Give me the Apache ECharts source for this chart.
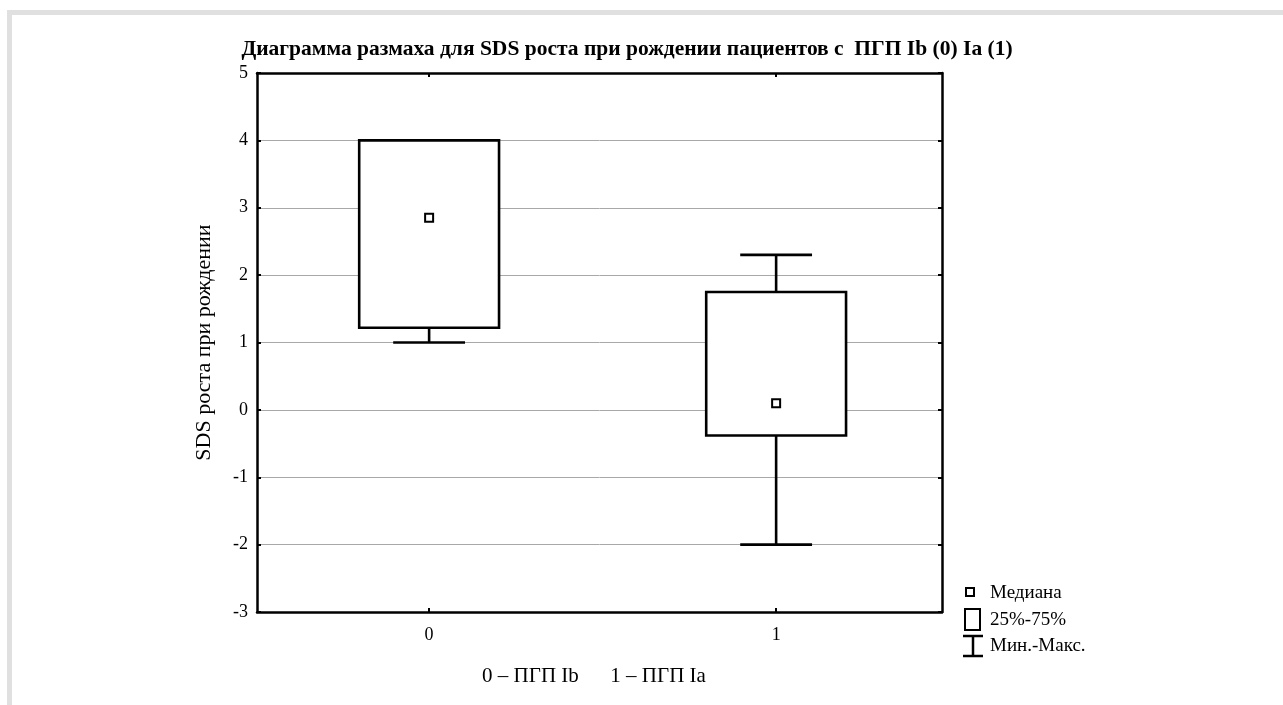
<!DOCTYPE html>
<html>
<head>
<meta charset="utf-8">
<script src="https://cdn.jsdelivr.net/npm/echarts@6/dist/echarts.min.js"></script>
<style>
html,body{margin:0;padding:0;background:#fff;}
#frame{position:absolute;left:7px;top:10px;right:0;bottom:0;border-top:5px solid #e0e0e0;border-left:5px solid #e0e0e0;}
#chart{position:absolute;left:0;top:0;width:1283px;height:705px;}
</style>
</head>
<body>
<div id="frame"></div>
<div id="chart"></div>
<script>
const categories = [0, 1];
const q1Values = [1.22, -0.38];
const q3Values = [4.0, 1.75];
const medianValues = [2.85, 0.1];
const minValues = [1.0, -2.0];
const maxValues = [4.0, 2.3];
const yTicks = [-3, -2, -1, 0, 1, 2, 3, 4, 5];

const FONT = '"Liberation Serif", "DejaVu Serif", serif';
const chart = echarts.init(document.getElementById('chart'));

const data = categories.map((c, i) => [c, q1Values[i], q3Values[i], medianValues[i], minValues[i], maxValues[i]]);

function renderItem(params, api) {
  const x = api.value(0);
  const q1 = api.coord([x, api.value(1)]);
  const q3 = api.coord([x, api.value(2)]);
  const med = api.coord([x, api.value(3)]);
  const mn = api.coord([x, api.value(4)]);
  const mx = api.coord([x, api.value(5)]);
  const boxW = api.size([0.403, 0])[0];
  const capW = api.size([0.207, 0])[0];
  const cx = q1[0];
  const st = {stroke: '#000', lineWidth: 2.6, fill: null};
  const children = [];
  if (mn[1] > q1[1] + 0.5) {
    children.push({type: 'line', shape: {x1: cx, y1: q1[1], x2: cx, y2: mn[1]}, style: st});
    children.push({type: 'line', shape: {x1: cx - capW / 2, y1: mn[1], x2: cx + capW / 2, y2: mn[1]}, style: st});
  }
  if (mx[1] < q3[1] - 0.5) {
    children.push({type: 'line', shape: {x1: cx, y1: q3[1], x2: cx, y2: mx[1]}, style: st});
    children.push({type: 'line', shape: {x1: cx - capW / 2, y1: mx[1], x2: cx + capW / 2, y2: mx[1]}, style: st});
  }
  children.push({type: 'rect', shape: {x: cx - boxW / 2, y: q3[1], width: boxW, height: q1[1] - q3[1]},
    style: {stroke: '#000', lineWidth: 2.6, fill: '#fff'}});
  children.push({type: 'rect', shape: {x: med[0] - 4, y: med[1] - 4, width: 8, height: 8},
    style: {stroke: '#000', lineWidth: 2, fill: '#fff'}});
  return {type: 'group', children};
}

const axisLineStyle = {show: true, onZero: false, lineStyle: {color: '#000', width: 2.5}};
const tickStyle = {show: true, inside: true, length: 4, lineStyle: {color: '#000', width: 2}};

chart.setOption({
  animation: false,
  title: {
    text: 'Диаграмма размаха для SDS роста при рождении пациентов с  ПГП Ib (0) Ia (1)',
    left: 622, top: 33, textAlign: 'center',
    textStyle: {fontFamily: FONT, fontSize: 21.5, fontWeight: 'bold', color: '#000'}
  },
  grid: {left: 257, right: 341, top: 73, bottom: 93},
  xAxis: [{
    type: 'value', min: -0.496, max: 1.478, position: 'bottom',
    axisLine: axisLineStyle,
    axisTick: Object.assign({customValues: categories}, tickStyle),
    axisLabel: {customValues: categories, margin: 14, fontFamily: FONT, fontSize: 18, color: '#000'},
    splitLine: {show: false}
  }, {
    type: 'value', min: -0.496, max: 1.478, position: 'top',
    axisLine: axisLineStyle,
    axisTick: Object.assign({customValues: categories}, tickStyle),
    axisLabel: {show: false},
    splitLine: {show: false}
  }],
  yAxis: [{
    type: 'value', min: -3, max: 5, interval: 1, position: 'left',
    name: 'SDS роста при рождении', nameLocation: 'middle', nameGap: 42, nameRotate: 90,
    nameTextStyle: {fontFamily: FONT, fontSize: 22, color: '#000'},
    axisLine: axisLineStyle,
    axisTick: tickStyle,
    axisLabel: {margin: 9, fontFamily: FONT, fontSize: 18, color: '#000', customValues: yTicks},
    splitLine: {show: true, lineStyle: {color: '#a8a8a8', width: 1}}
  }, {
    type: 'value', min: -3, max: 5, interval: 1, position: 'right',
    axisLine: axisLineStyle,
    axisTick: tickStyle,
    axisLabel: {show: false},
    splitLine: {show: false}
  }],
  series: [{
    type: 'custom', xAxisIndex: 0, yAxisIndex: 0,
    renderItem, data, encode: {x: 0, y: [1, 2, 3, 4, 5]}, clip: false, z: 10
  }],
  graphic: [
    {type: 'rect', shape: {x: 966, y: 588, width: 8, height: 8}, style: {stroke: '#000', lineWidth: 2, fill: '#fff'}},
    {type: 'text', x: 990, y: 593, style: {text: 'Медиана', fontFamily: FONT, fontSize: 19, fill: '#000', verticalAlign: 'middle'}},
    {type: 'rect', shape: {x: 965, y: 609, width: 15, height: 21}, style: {stroke: '#000', lineWidth: 2, fill: '#fff'}},
    {type: 'text', x: 990, y: 620, style: {text: '25%-75%', fontFamily: FONT, fontSize: 19, fill: '#000', verticalAlign: 'middle'}},
    {type: 'line', shape: {x1: 963, y1: 636, x2: 983, y2: 636}, style: {stroke: '#000', lineWidth: 2.5}},
    {type: 'line', shape: {x1: 973, y1: 636, x2: 973, y2: 656}, style: {stroke: '#000', lineWidth: 2.5}},
    {type: 'line', shape: {x1: 963, y1: 656, x2: 983, y2: 656}, style: {stroke: '#000', lineWidth: 2.5}},
    {type: 'text', x: 990, y: 646, style: {text: 'Мин.-Макс.', fontFamily: FONT, fontSize: 19, fill: '#000', verticalAlign: 'middle'}},
    {type: 'text', x: 594, y: 676, style: {text: '0 – ПГП Ib      1 – ПГП Ia', fontFamily: FONT, fontSize: 21, fill: '#000', align: 'center', verticalAlign: 'middle'}}
  ]
});
</script>
</body>
</html>
